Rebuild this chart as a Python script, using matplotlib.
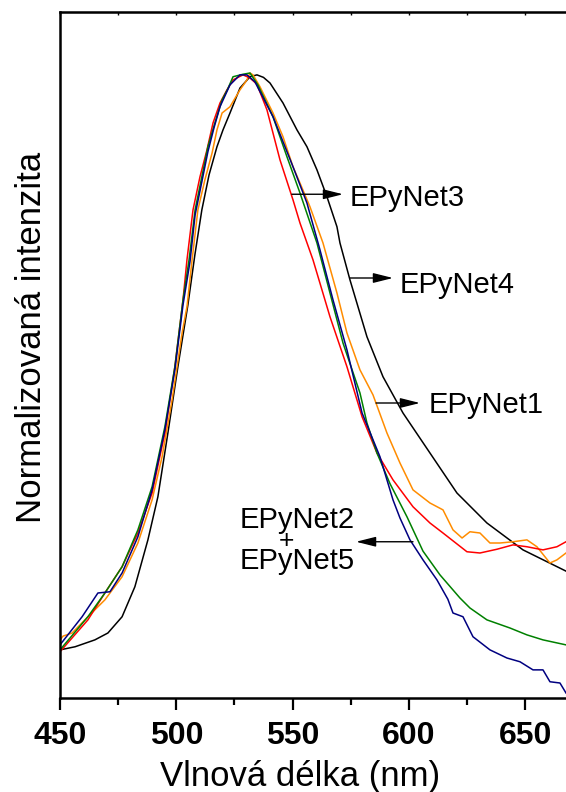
import matplotlib
matplotlib.use('Agg')
import matplotlib.pyplot as plt

plt.rcParams['font.family'] = ['Liberation Sans', 'DejaVu Sans']

# EPyNet4 (black)
wl_4 = [450.0, 456.5, 465.0, 470.6, 476.7, 482.2, 487.8, 492.1, 496.4, 500.7, 505.0, 508.0,
        511.0, 514.1, 517.5, 520.1, 523.1, 527.4, 531.7, 534.7, 537.5, 540.3, 545.9, 551.9,
        556.2, 560.5, 564.8, 569.1, 570.4, 574.7, 582.0, 588.9, 597.5, 609.1, 620.7, 633.6,
        649.1, 667.6]
in_4 = [0.077, 0.082, 0.093, 0.104, 0.130, 0.178, 0.253, 0.322, 0.424, 0.530, 0.629, 0.709,
        0.781, 0.837, 0.882, 0.909, 0.936, 0.976, 0.994, 0.997, 0.993, 0.984, 0.952, 0.909,
        0.882, 0.845, 0.802, 0.754, 0.728, 0.669, 0.578, 0.514, 0.456, 0.392, 0.328, 0.280,
        0.237, 0.203]

# EPyNet3 (red)
wl_3 = [450.0, 462.0, 469.3, 476.7, 483.5, 489.6, 495.1, 499.4, 502.9, 504.6, 507.2, 510.2,
        513.2, 515.8, 518.8, 521.8, 524.4, 528.7, 531.7, 534.7, 539.0, 544.6, 550.2, 553.2,
        558.8, 566.1, 573.4, 579.9, 586.3, 593.2, 601.8, 609.1, 614.7, 625.0, 630.6, 637.9,
        644.8, 650.8, 657.7, 663.7, 667.6]
in_3 = [0.074, 0.125, 0.168, 0.210, 0.264, 0.328, 0.424, 0.530, 0.637, 0.701, 0.781, 0.834,
        0.877, 0.920, 0.952, 0.973, 0.989, 0.997, 0.992, 0.982, 0.941, 0.861, 0.797, 0.760,
        0.701, 0.610, 0.530, 0.450, 0.392, 0.349, 0.306, 0.280, 0.264, 0.234, 0.232, 0.238,
        0.245, 0.242, 0.237, 0.242, 0.250]

# EPyNet2 / EPyNet5 (green)
wl_g = [450.0, 462.0, 469.3, 476.7, 483.5, 489.6, 495.1, 499.4, 502.9, 505.5, 508.1, 511.0,
        513.6, 516.6, 519.7, 522.2, 524.4, 528.7, 531.7, 535.1, 541.6, 547.6, 553.2, 560.5,
        566.1, 571.7, 579.0, 582.0, 586.3, 591.9, 599.2, 606.1, 613.4, 622.0, 626.3, 633.6,
        643.5, 650.8, 657.7, 667.6]
in_g = [0.077, 0.130, 0.168, 0.210, 0.269, 0.338, 0.434, 0.530, 0.637, 0.701, 0.781, 0.834,
        0.882, 0.920, 0.957, 0.975, 0.994, 0.998, 1.000, 0.981, 0.930, 0.866, 0.808, 0.728,
        0.648, 0.568, 0.488, 0.440, 0.392, 0.343, 0.290, 0.235, 0.197, 0.160, 0.144, 0.125,
        0.112, 0.101, 0.093, 0.085]

# EPyNet2 / EPyNet5 (blue)
wl_b = [450.0, 459.5, 466.3, 471.5, 476.7, 483.5, 489.6, 495.1, 499.4, 502.9, 505.9, 508.1,
        511.0, 513.6, 516.2, 518.8, 523.1, 527.4, 530.4, 533.8, 541.6, 550.2, 556.2, 561.8,
        567.4, 573.4, 579.9, 587.6, 593.2, 596.2, 600.5, 606.1, 612.1, 616.8, 619.0, 623.3,
        627.6, 634.9, 642.2, 647.8, 653.4, 657.7, 660.7, 665.0, 667.6]
in_b = [0.085, 0.130, 0.168, 0.170, 0.200, 0.258, 0.333, 0.429, 0.525, 0.629, 0.698, 0.773,
        0.826, 0.874, 0.912, 0.946, 0.981, 0.997, 0.997, 0.986, 0.930, 0.850, 0.792, 0.717,
        0.637, 0.557, 0.456, 0.386, 0.317, 0.288, 0.253, 0.221, 0.189, 0.158, 0.136, 0.130,
        0.098, 0.077, 0.064, 0.058, 0.045, 0.045, 0.026, 0.024, 0.008]

# EPyNet1 (orange)
wl_1 = [450.0, 451.3, 455.2, 462.0, 469.3, 476.7, 483.5, 489.6, 493.9, 498.2, 502.5, 504.6,
        506.8, 509.3, 512.3, 515.4, 517.5, 519.7, 523.1, 527.4, 530.4, 531.7, 533.0, 536.0,
        541.6, 545.9, 550.2, 553.2, 557.5, 563.1, 569.1, 573.4, 579.0, 584.6, 590.6, 596.2,
        601.8, 609.1, 614.7, 619.0, 622.9, 626.3, 630.6, 634.9, 639.2, 644.8, 650.8, 655.1,
        660.7, 663.7, 667.6]
in_1 = [0.093, 0.099, 0.104, 0.130, 0.157, 0.194, 0.248, 0.317, 0.386, 0.477, 0.584, 0.626,
        0.701, 0.781, 0.829, 0.872, 0.909, 0.936, 0.946, 0.973, 0.989, 1.000, 0.997, 0.978,
        0.936, 0.898, 0.850, 0.824, 0.786, 0.728, 0.648, 0.584, 0.525, 0.485, 0.424, 0.376,
        0.333, 0.312, 0.301, 0.269, 0.256, 0.266, 0.264, 0.248, 0.248, 0.250, 0.253, 0.242,
        0.216, 0.221, 0.232]

ticks_major = [450, 500, 550, 600, 650]
ticks_minor = [475, 525, 575, 625]

fig = plt.figure(figsize=(5.66, 7.92), dpi=100)
ax = fig.add_axes([60 / 566, 94 / 792, 506 / 566, 686 / 792])

lw = 1.1
ax.plot(wl_4, in_4, color='black', lw=lw)
ax.plot(wl_1, in_1, color='#ff8c00', lw=lw)
ax.plot(wl_3, in_3, color='#ff0000', lw=lw)
ax.plot(wl_g, in_g, color='#008000', lw=lw)
ax.plot(wl_b, in_b, color='#000080', lw=lw)

ax.set_xlim(450, 667.6)
ax.set_ylim(0, 1.0976)

ax.spines['right'].set_visible(False)
for s in ['left', 'top', 'bottom']:
    ax.spines[s].set_linewidth(1.8)

ax.set_xticks(ticks_major)
ax.set_xticks(ticks_minor, minor=True)
ax.set_yticks([])
ax.tick_params(axis='x', which='major', direction='out', length=8.5, width=1.6, pad=8,
               labelsize=23)
ax.tick_params(axis='x', which='minor', direction='out', length=5, width=1.6)
for lab in ax.get_xticklabels():
    lab.set_fontweight('bold')

top = ax.secondary_xaxis('top')
top.set_xticks(ticks_major)
top.set_xticks(ticks_minor, minor=True)
top.tick_params(which='both', direction='in', length=2.5, width=1.0, labeltop=False)

ax.set_xlabel('Vlnová délka (nm)', fontsize=25)
ax.xaxis.label.set_va('baseline')
ax.xaxis.set_label_coords((300 - 60) / 506, (698 - 786) / 686)
ax.set_ylabel('Normalizovaná intenzita', fontsize=25)
ax.yaxis.label.set_va('baseline')
ax.yaxis.set_label_coords((41 - 60) / 506, (698 - 337) / 686)

arrow = dict(arrowstyle='-|>,head_length=0.6,head_width=0.15', color='black', lw=1,
             mutation_scale=20, shrinkA=0, shrinkB=0)
fs = 21
ax.annotate('', xy=(571.7, 0.806), xytext=(549.7, 0.806), arrowprops=arrow)
ax.text(574.7, 0.800, 'EPyNet3', fontsize=fs, va='center', ha='left')
ax.annotate('', xy=(593.2, 0.672), xytext=(574.7, 0.672), arrowprops=arrow)
ax.text(596.2, 0.661, 'EPyNet4', fontsize=fs, va='center', ha='left')
ax.annotate('', xy=(604.8, 0.472), xytext=(585.9, 0.472), arrowprops=arrow)
ax.text(608.6, 0.469, 'EPyNet1', fontsize=fs, va='center', ha='left')
ax.annotate('', xy=(577.3, 0.250), xytext=(601.8, 0.250), arrowprops=arrow)
ax.text(551.9, 0.284, 'EPyNet2', fontsize=fs, va='center', ha='center')
ax.text(547.2, 0.251, '+', fontsize=fs - 2, va='center', ha='center')
ax.text(551.9, 0.219, 'EPyNet5', fontsize=fs, va='center', ha='center')

fig.savefig('out.png', dpi=100, facecolor='white')
